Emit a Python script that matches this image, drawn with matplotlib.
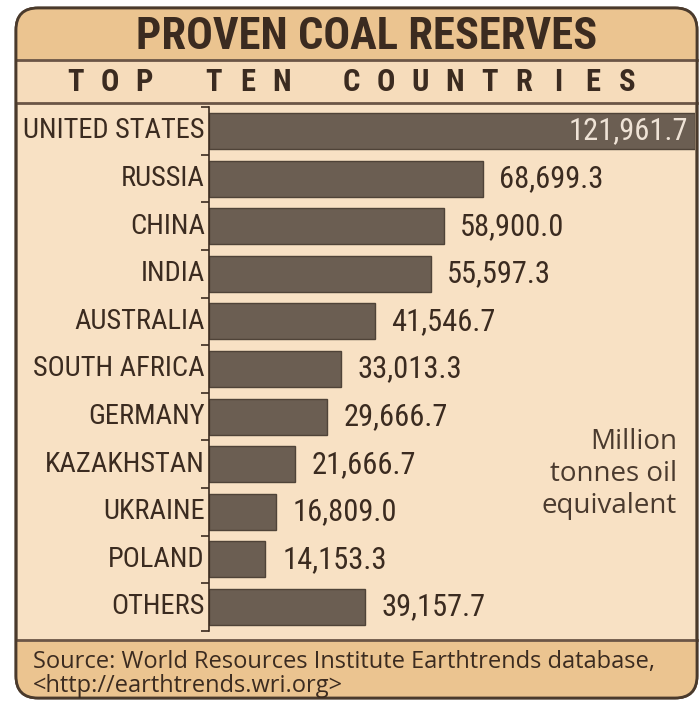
import numpy as np
import matplotlib
matplotlib.use("Agg")
import matplotlib.pyplot as plt
from matplotlib.patches import FancyBboxPatch, Rectangle

countries = ["UNITED STATES", "RUSSIA", "CHINA", "INDIA", "AUSTRALIA",
             "SOUTH AFRICA", "GERMANY", "KAZAKHSTAN", "UKRAINE", "POLAND", "OTHERS"]
reserves = [121961.7, 68699.3, 58900.0, 55597.3, 41546.7,
            33013.3, 29666.7, 21666.7, 16809.0, 14153.3, 39157.7]

title = "PROVEN COAL RESERVES"
subtitle = "TOP TEN COUNTRIES"
units = "Million\ntonnes oil\nequivalent"
source = "Source: World Resources Institute Earthtrends database,\n<http://earthtrends.wri.org>"

narrow = ["Roboto Condensed", "Roboto", "DejaVu Sans"]
body = ["Open Sans", "DejaVu Sans"]

ink = "#3b2b20"
bar_col = "#6b5e52"
head_col = "#ebc490"
panel_col = "#f8e1c4"
sub_col = "#f6dcbb"

W, H = 700, 701
fig = plt.figure(figsize=(W / 100, H / 100), dpi=100)
fig.patch.set_facecolor("white")

# background frame drawn in pixel coordinates
bg = fig.add_axes([0, 0, 1, 1])
bg.set_xlim(0, W)
bg.set_ylim(H, 0)
bg.axis("off")

frame = FancyBboxPatch((16, 8), 681, 690, boxstyle="round,pad=0,rounding_size=22",
                       facecolor=panel_col, edgecolor="#4a3a2c", linewidth=2, zorder=1)
bg.add_patch(frame)
for y0, y1, c in [(8, 60, head_col), (60, 103, sub_col), (640, 698, head_col)]:
    r = Rectangle((10, y0), 700, y1 - y0, facecolor=c, edgecolor="none", zorder=2)
    r.set_clip_path(frame)
    bg.add_patch(r)
for y in (60, 103, 640):
    bg.plot([16, 697], [y, y], color="#6b5546", lw=2, zorder=3)
frame2 = FancyBboxPatch((16, 8), 681, 690, boxstyle="round,pad=0,rounding_size=22",
                        facecolor="none", edgecolor="#4a3a2c", linewidth=2, zorder=4)
bg.add_patch(frame2)

bg.text(367, 37, title, ha="center", va="center", fontsize=32, fontweight="bold",
        family=narrow, color=ink, zorder=5)

# letter-spaced subtitle
step, gap = 34.5, 69
xc = 75
for w in subtitle.split():
    for ch in w:
        bg.text(xc, 82, ch, ha="center", va="center", fontsize=22, fontweight="bold",
                family=narrow, color=ink, zorder=5)
        xc += step
    xc += gap - step

bg.text(677, 474, units, ha="right", va="center", fontsize=20, fontweight="medium",
        family=body, color="#4a3a2e", linespacing=1.2, zorder=5)
bg.text(33, 674, source, ha="left", va="center", fontsize=17, family=body,
        color=ink, linespacing=1.0, zorder=5)

# bar chart
x0, x1 = 209, 695
top, bottom = 107.2, 630.8
ax = fig.add_axes([x0 / W, 1 - bottom / H, (x1 - x0) / W, (bottom - top) / H])
ax.set_facecolor("none")
pos = np.arange(len(countries))
ax.barh(pos, reserves, height=0.76, color=bar_col, edgecolor="#4f4338", linewidth=1)
ax.set_xlim(0, max(reserves))
ax.set_ylim(len(countries) - 0.5, -0.5)
for s in ("top", "right", "bottom"):
    ax.spines[s].set_visible(False)
ax.spines["left"].set_color("#3b2b20")
ax.spines["left"].set_linewidth(1.2)
ax.set_xticks([])
ax.set_yticks(np.arange(-0.5, len(countries), 1.0))
ax.set_yticklabels([])
ax.tick_params(axis="y", direction="out", length=6, width=1.2, color="#3b2b20")
for i, name in enumerate(countries):
    ax.annotate(name, (0, i), xytext=(-3, 0), textcoords="offset points",
                ha="right", va="center", fontsize=20.5, family=narrow, color=ink)
    label = f"{reserves[i]:,.1f}"
    if reserves[i] == max(reserves):
        ax.annotate(label, (reserves[i], i), xytext=(-5, 0), textcoords="offset points",
                    ha="right", va="center", fontsize=22, family=narrow, color="#efe3d6")
    else:
        ax.annotate(label, (reserves[i], i), xytext=(12, 0), textcoords="offset points",
                    ha="left", va="center", fontsize=22, family=narrow, color=ink)

fig.savefig("out.png", dpi=100)
